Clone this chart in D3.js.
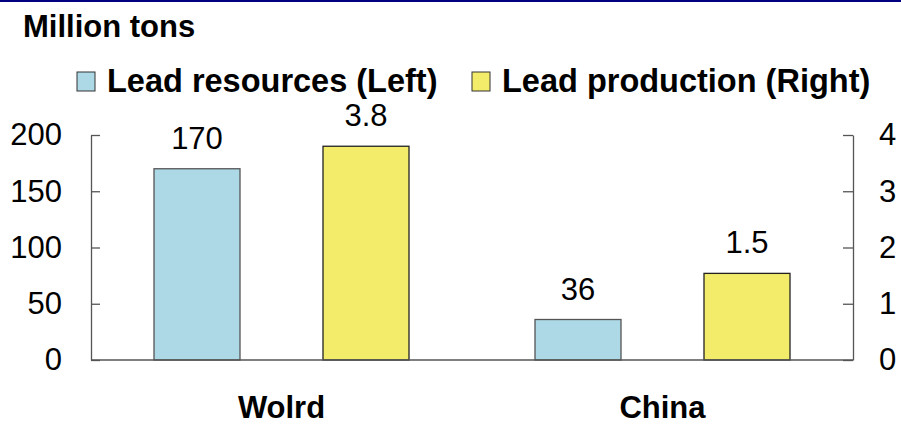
<!DOCTYPE html>
<html>
<head>
<meta charset="utf-8">
<script src="https://cdn.jsdelivr.net/npm/d3@7"></script>
<style>
  html, body { margin: 0; padding: 0; background: #fff; }
  svg { display: block; font-family: "Liberation Sans", Arial, sans-serif; }
</style>
</head>
<body>
<svg id="chart" width="901" height="426"></svg>
<script>
// ---- data ----
const categories = ["Wolrd", "China"];
const seriesNames = ["Lead resources (Left)", "Lead production (Right)"];
const resources = [170, 36];      // left axis, million tons
const production = [3.8, 1.54];   // right axis, million tons
const leftTicks = [0, 50, 100, 150, 200];
const rightTicks = [0, 1, 2, 3, 4];
const titleText = "Million tons";

const colors = ["#ADD8E6", "#F2EC6A"];
const strokes = ["#555555", "#222222"];

const svg = d3.select("#chart");
const W = 901, H = 426;
const plot = { left: 91, right: 853, top: 135, bottom: 360 };

// top rule
svg.append("line").attr("x1", 0).attr("x2", W).attr("y1", 1).attr("y2", 1)
  .attr("stroke", "#000080").attr("stroke-width", 2);

// title
svg.append("text").attr("x", 23).attr("y", 37)
  .attr("font-size", 31).attr("font-weight", "bold").attr("fill", "#000")
  .text(titleText);

// scales
const x0 = d3.scaleBand().domain(categories).range([plot.left, plot.right]).padding(0);
const yL = d3.scaleLinear().domain([0, 200]).range([plot.bottom, plot.top]);
const yR = d3.scaleLinear().domain([0, 4]).range([plot.bottom, plot.top]);
const barW = 86, offset = 84.5;

// axes
const axL = svg.append("g").attr("transform", `translate(${plot.left},0)`)
  .call(d3.axisLeft(yL).tickValues(leftTicks).tickSize(-9).tickSizeOuter(0).tickPadding(29).tickFormat(d3.format("d")));
const axR = svg.append("g").attr("transform", `translate(${plot.right},0)`)
  .call(d3.axisRight(yR).tickValues(rightTicks).tickSize(-10).tickSizeOuter(0).tickPadding(26).tickFormat(d3.format("d")));
[axL, axR].forEach(g => {
  g.selectAll("path.domain").attr("stroke", "#555").attr("stroke-width", 1.3);
  g.selectAll(".tick line").attr("stroke", "#555").attr("stroke-width", 1.3);
  g.selectAll(".tick text").attr("font-size", 31).attr("fill", "#000")
    .attr("font-family", "'Liberation Sans', Arial, sans-serif");
});

// bars
const rows = categories.map((c, i) => ({ c, vals: [resources[i], production[i]] }));
const scales = [yL, yR];
const fmts = [d3.format("d"), d3.format(".1f")];
const groups = svg.selectAll("g.cat").data(rows).join("g").attr("class", "cat");
[0, 1].forEach(s => {
  groups.append("rect")
    .attr("x", d => x0(d.c) + x0.bandwidth() / 2 + (s === 0 ? -offset : offset) - barW / 2)
    .attr("width", barW)
    .attr("y", d => scales[s](d.vals[s]))
    .attr("height", d => plot.bottom - scales[s](d.vals[s]))
    .attr("fill", colors[s]).attr("stroke", strokes[s]).attr("stroke-width", 1.3);
  groups.append("text")
    .attr("x", d => x0(d.c) + x0.bandwidth() / 2 + (s === 0 ? -offset : offset))
    .attr("y", d => scales[s](d.vals[s]) - 20)
    .attr("text-anchor", "middle").attr("font-size", 31).attr("fill", "#000")
    .text(d => fmts[s](d.vals[s]));
});

// baseline
svg.append("line").attr("x1", plot.left).attr("x2", plot.right)
  .attr("y1", plot.bottom).attr("y2", plot.bottom)
  .attr("stroke", "#555").attr("stroke-width", 1.3);

// category labels
svg.selectAll("text.cat").data(categories).join("text").attr("class", "cat")
  .attr("x", d => x0(d) + x0.bandwidth() / 2).attr("y", 418)
  .attr("text-anchor", "middle").attr("font-size", 31).attr("font-weight", "bold")
  .attr("fill", "#000").text(d => d);

// legend
const legendX = [77, 472];
const lg = svg.selectAll("g.legend").data(seriesNames).join("g").attr("class", "legend")
  .attr("transform", (d, i) => `translate(${legendX[i]},72)`);
lg.append("rect").attr("width", 18).attr("height", 19)
  .attr("fill", (d, i) => colors[i]).attr("stroke", "#333").attr("stroke-width", 1);
lg.append("text").attr("x", 30).attr("y", 20)
  .attr("font-size", 32.5).attr("font-weight", "bold").attr("fill", "#000").text(d => d);
</script>
</body>
</html>
